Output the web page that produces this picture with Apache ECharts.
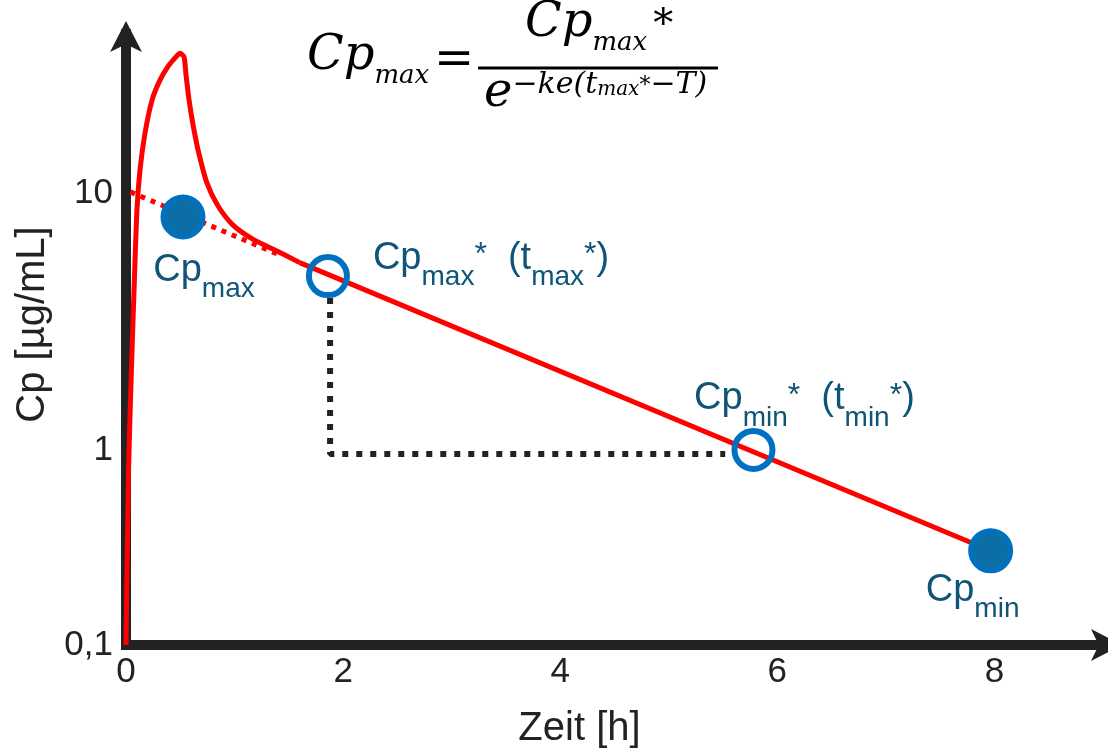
<!DOCTYPE html>
<html style="height: 100%">
<head>
    <meta charset="utf-8">
</head>
<body style="height: 100%; margin: 0">
<div id="container" style="width: 1108px; height: 754px"></div>
<script type="text/javascript" src="https://cdn.jsdelivr.net/npm/echarts@6/dist/echarts.min.js"></script>
<script type="text/javascript">
// Zeit [h] / Cp [ug/mL]
var curveT  = [0, 0.023, 0.046, 0.074, 0.101, 0.129, 0.175, 0.240, 0.313, 0.387, 0.452, 0.498, 0.535, 0.553, 0.581, 0.618, 0.664, 0.747, 0.848, 0.986, 1.171, 1.39, 1.60];
var curveCp = [0.174, 0.814, 1.82, 4.19, 8.6, 12.3, 17.1, 23.0, 27.5, 31.1, 33.6, 35.0, 33.8, 28.8, 23.0, 18.4, 14.7, 10.9, 8.9, 7.5, 6.6, 5.95, 5.36];

// Eliminationsgerade
var elimT  = [1.60, 7.965];
var elimCp = [5.36, 0.405];

// rueckextrapolierte Gerade (gepunktet)
var extrapT  = [0.04, 1.39];
var extrapCp = [10.1, 5.8];

// Hilfslinien t_max* -> t_min*
var guideT  = [1.88, 1.88, 5.52];
var guideCp = [3.9, 0.965, 0.965];

// Punkte
var markNames = ['Cp_max', 'Cp_max*', 'Cp_min*', 'Cp_min'];
var markT     = [0.525, 1.86, 5.78, 7.965];
var markCp    = [8.07, 4.75, 1.0, 0.405];
var markFilled = [true, false, false, true];

var yRange = [0.174, 41.6];
var yTickLabels = { '1': '1', '10': '10' };
var xRange = [0, 9];

var FONT = 'Liberation Sans';
var MATH = 'DejaVu Serif';
var TEAL = '#0f5577';
var BLUE = '#0070c0';

function pairs(xs, ys) {
    return xs.map(function (x, i) { return [x, ys[i]]; });
}

var rich = {
    c: { fontSize: 38, lineHeight: 38, verticalAlign: 'top', color: TEAL, fontFamily: FONT },
    s: { fontSize: 28, lineHeight: 28, verticalAlign: 'top', padding: [24, 0, 0, 0], color: TEAL, fontFamily: FONT },
    u: { fontSize: 32, lineHeight: 32, verticalAlign: 'top', color: TEAL, fontFamily: FONT }
};
var labelText = {
    'Cp_max': '{c|Cp}{s|max}',
    'Cp_max*': '{c|Cp}{s|max}{u|*}{c|  (t}{s|max}{u|*}{c|)}',
    'Cp_min*': '{c|Cp}{s|min}{u|*}{c|  (t}{s|min}{u|*}{c|)}',
    'Cp_min': '{c|Cp}{s|min}'
};
var labelPos = {
    'Cp_max':  { position: 'bottom', distance: 12, offset: [21, 0] },
    'Cp_max*': { position: 'right', distance: 23, offset: [0, -18] },
    'Cp_min*': { position: 'top', distance: 10, offset: [51, 0] },
    'Cp_min':  { position: 'bottom', distance: 2, offset: [-18, -4] }
};

var markData = markNames.map(function (n, i) {
    var filled = markFilled[i];
    var lp = labelPos[n];
    return {
        name: n,
        value: [markT[i], markCp[i]],
        symbolSize: filled ? 40 : 38,
        itemStyle: {
            color: filled ? '#0b6fa6' : 'rgba(0,0,0,0)',
            borderColor: BLUE,
            borderWidth: filled ? 5 : 6,
            opacity: 1
        },
        label: {
            show: true,
            position: lp.position,
            distance: lp.distance,
            offset: lp.offset,
            formatter: labelText[n],
            rich: rich
        }
    };
});

var mrich = {
    m:   { fontSize: 48, lineHeight: 48, verticalAlign: 'top', fontFamily: MATH, fontStyle: 'italic', color: '#000' },
    s:   { fontSize: 26, lineHeight: 26, verticalAlign: 'top', padding: [30, 0, 0, 0], fontFamily: MATH, fontStyle: 'italic', color: '#000' },
    st:  { fontSize: 40, lineHeight: 40, verticalAlign: 'top', padding: [6, 0, 0, 6], fontFamily: MATH, color: '#000' },
    p:   { fontSize: 30, lineHeight: 30, verticalAlign: 'top', fontFamily: MATH, fontStyle: 'italic', color: '#000' },
    ps:  { fontSize: 20, lineHeight: 20, verticalAlign: 'top', padding: [10, 0, 0, 0], fontFamily: MATH, fontStyle: 'italic', color: '#000' },
    pst: { fontSize: 22, lineHeight: 22, verticalAlign: 'top', padding: [5, 0, 0, 0], fontFamily: MATH, color: '#000' }
};

function mathText(x, y, text) {
    return {
        type: 'text', x: x, y: y,
        style: { text: text, rich: mrich, textAlign: 'left', textVerticalAlign: 'top' }
    };
}

var dom = document.getElementById('container');
var myChart = echarts.init(dom);
var option = {
    animation: false,
    backgroundColor: '#fff',
    grid: { left: 126, right: 5, top: 34, bottom: 109, outerBoundsMode: 'none' },
    xAxis: {
        type: 'value', min: xRange[0], max: xRange[1], interval: 2,
        name: 'Zeit [h]', nameLocation: 'middle', nameGap: 64,
        nameTextStyle: { fontSize: 40, color: '#222', fontFamily: FONT, padding: [0, 70, 0, 0] },
        axisLine: { symbol: ['none', 'arrow'], symbolSize: [24, 31], symbolOffset: [0, 19], lineStyle: { color: '#222', width: 10, cap: 'square' } },
        axisTick: { show: false },
        splitLine: { show: false },
        axisLabel: { fontSize: 35, color: '#222', fontFamily: FONT, margin: 10, showMaxLabel: false }
    },
    yAxis: {
        type: 'log', min: yRange[0], max: yRange[1],
        name: 'Cp [µg/mL]', nameLocation: 'middle', nameGap: 64, nameRotate: 90,
        nameTextStyle: { fontSize: 40, color: '#222', fontFamily: FONT, padding: [0, 0, 0, 30] },
        axisLine: { symbol: ['none', 'arrow'], symbolSize: [24, 31], symbolOffset: [0, 13], lineStyle: { color: '#222', width: 10, cap: 'square' } },
        axisTick: { show: false },
        minorTick: { show: false },
        splitLine: { show: false },
        axisLabel: {
            fontSize: 35, color: '#222', fontFamily: FONT, margin: 13,
            showMinLabel: true, showMaxLabel: true,
            formatter: function (v) {
                if (Math.abs(v - yRange[0]) < 1e-3) return '0,1';
                var k = String(Math.round(v));
                if (Math.abs(v - Math.round(v)) < 1e-6 && yTickLabels[k]) return yTickLabels[k];
                return '';
            }
        }
    },
    graphic: [
        mathText(307, 33, '{m|Cp}{s|max}'),
        {
            type: 'text', x: 434, y: 62,
            style: { text: '=', fontSize: 48, fontFamily: MATH, fill: '#000', textAlign: 'left', textVerticalAlign: 'middle' }
        },
        { type: 'line', shape: { x1: 478, y1: 68, x2: 718, y2: 68 }, style: { stroke: '#000', lineWidth: 3 } },
        mathText(525, 0, '{m|Cp}{s|max}{st|*}'),
        mathText(484, 70, '{m|e}{p|\u2212ke(t}{ps|max}{pst|*}{p|\u2212T)}')
    ],
    series: [
        {
            type: 'line', data: pairs(guideT, guideCp), symbol: 'none', z: 2,
            lineStyle: { color: '#222', width: 6, type: [6, 8] }
        },
        {
            type: 'line', data: pairs(extrapT, extrapCp), symbol: 'none', z: 3,
            lineStyle: { color: '#ff0000', width: 5, type: [5, 6] }
        },
        {
            type: 'line', data: pairs(curveT, curveCp), symbol: 'none', z: 4,
            smooth: 0.25,
            lineStyle: { color: '#ff0000', width: 5, join: 'round' }
        },
        {
            type: 'line', data: pairs(elimT, elimCp), symbol: 'none', z: 4,
            lineStyle: { color: '#ff0000', width: 5 }
        },
        {
            type: 'scatter', data: markData, z: 5
        }
    ]
};
myChart.setOption(option);
</script>
</body>
</html>
